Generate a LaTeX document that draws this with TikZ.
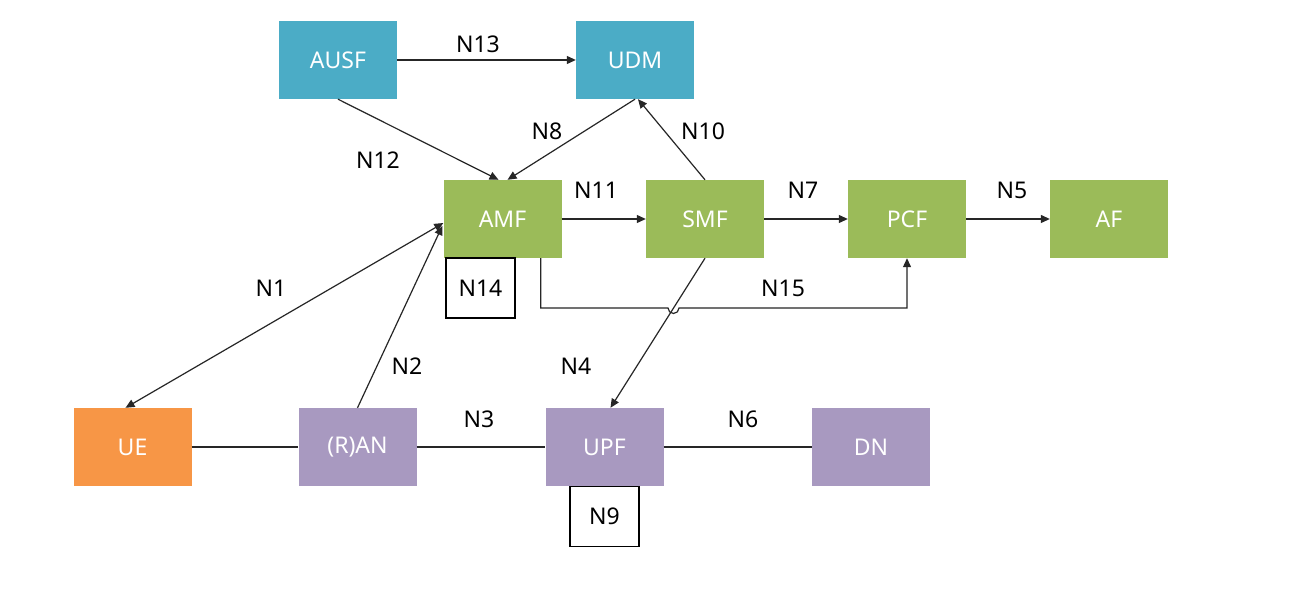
\documentclass[tikz,border=0pt]{standalone}
\usepackage{fontspec}
\setmainfont{Noto Sans}
\usetikzlibrary{arrows.meta}
\definecolor{cteal}{HTML}{4BACC6}
\definecolor{cgreen}{HTML}{9BBB59}
\definecolor{corange}{HTML}{F79646}
\definecolor{cpurple}{HTML}{A899C0}
\begin{document}
\begin{tikzpicture}[x=1pt,y=-1pt,
  nf/.style={minimum width=118pt,minimum height=78pt,inner sep=0pt,text=white,font=\fontsize{23}{26}\selectfont},
  teal/.style={nf,fill=cteal},
  green/.style={nf,fill=cgreen},
  orange/.style={nf,fill=corange},
  purple/.style={nf,fill=cpurple},
  lbl/.style={font=\fontsize{23}{26}\selectfont,inner sep=0pt},
  sbox/.style={draw,line width=1.2pt,minimum width=69pt,minimum height=60pt,inner sep=0pt,font=\fontsize{23}{26}\selectfont},
  conn/.style={line width=1.2pt,draw=black!85},
  arr/.style={conn,-{Triangle[length=9pt,width=8pt]}},
  darr/.style={conn,{Triangle[length=9pt,width=8pt]}-{Triangle[length=9pt,width=8pt]}}
]
\useasboundingbox[fill=white] (0,0) rectangle (1305,612);
% nodes
\node[teal] (AUSF) at (338,60) {AUSF};
\node[teal] (UDM) at (635,60) {UDM};
\node[green] (AMF) at (502.5,219) {AMF};
\node[green] (SMF) at (705,219) {SMF};
\node[green] (PCF) at (907,219) {PCF};
\node[green] (AF) at (1109,219) {AF};
\node[orange] (UE) at (132.5,447) {UE};
\node[purple] (RAN) at (357.5,447) {(R)AN};
\node[purple] (UPF) at (604.5,447) {UPF};
\node[purple] (DN) at (871,447) {DN};
\node[sbox] (N14) at (480.5,288) {N14};
\node[sbox] (N9) at (604.5,516.5) {N9};
% connectors
\draw[arr] (AUSF) -- (UDM);
\draw[arr] (AUSF.south) -- ([xshift=-4pt]AMF.north);
\draw[arr] (UDM.south) -- ([xshift=5pt]AMF.north);
\draw[arr] (SMF.north) -- ([xshift=3pt]UDM.south);
\draw[arr] (AMF) -- (SMF);
\draw[arr] (SMF) -- (PCF);
\draw[arr] (PCF) -- (AF);
\draw[arr] (SMF.south) -- ([xshift=6pt]UPF.north);
\draw[darr] ([xshift=-7pt]UE.north) -- ([yshift=-4pt]AMF.west);
\draw[arr] (RAN.north) -- ([yshift=-7pt,xshift=-1pt]AMF.west);
\coordinate (h1) at (668,308);
\draw[arr] ([xshift=-21pt]AMF.south east) -- ([xshift=-21pt]AMF.south east |- h1) -- (h1)
  arc[start angle=180,end angle=0,radius=5.5] -- (PCF.south |- h1) -- (PCF.south);
\draw[conn] (UE) -- (RAN);
\draw[conn] (RAN) -- (UPF);
\draw[conn] (UPF) -- (DN);
% labels
\node[lbl] (l13) at (478,44) {N13};
\node[lbl] (l12) at (378,160) {N12};
\node[lbl] (l8) at (547,131) {N8};
\node[lbl] (l10) at (703,131) {N10};
\node[lbl] (l11) at (596,190) {N11};
\node[lbl] (l7) at (803,190) {N7};
\node[lbl] (l5) at (1012,190) {N5};
\node[lbl] (l15) at (783,288) {N15};
\node[lbl] (l1) at (271,288) {N1};
\node[lbl] (l2) at (407,366) {N2};
\node[lbl] (l4) at (576,366) {N4};
\node[lbl] (l3) at (479,419) {N3};
\node[lbl] (l6) at (743,419) {N6};
\end{tikzpicture}
\end{document}
